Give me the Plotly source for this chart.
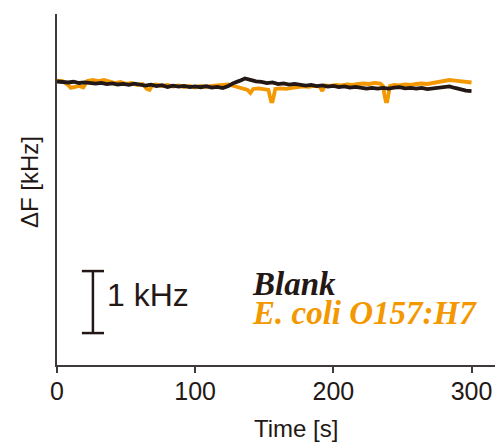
import plotly.graph_objects as go

# ---- data (frequency shift in Hz, time in s) ----
blank_time_s = list(range(0, 301, 4))
blank_df_hz = [8, 0, -8, 4, -16, -6, -18, -26, -14, -34,
               -22, -40, -30, -46, -28, -50, -58, -44, -66, -52,
               -80, -60, -74, -62, -82, -70, -84, -66, -90, -78,
               -98, -64, -14, 18, 56, 34, 10, 2, -18, -6,
               -34, -22, -42, -30, -50, -58, -46, -66, -54, -74,
               -62, -82, -70, -90, -78, -98, -106, -94, -108, -96,
               -106, -92, -84, -104, -94, -108, -96, -114, -102, -92,
               -78, -70, -96, -122, -138, -146]

ecoli_time_s = [0, 4, 8, 10, 13, 16, 19, 22, 26, 30, 34, 38, 42, 46, 50, 54, 58, 62, 65, 67,
                69, 72, 76, 80, 84, 88, 92, 96, 100, 104, 108, 112, 116, 120, 124, 128, 132, 136, 138, 140,
                142, 146, 150, 153, 154, 155, 156, 157, 158, 162, 166, 170, 174, 178, 182, 186, 190, 192, 194, 198,
                202, 206, 210, 214, 218, 222, 226, 230, 234, 236, 237, 238, 239, 240, 241, 244, 248, 252, 256, 260,
                264, 268, 272, 276, 280, 284, 288, 292, 296, 300]
ecoli_df_hz = [24, 16, -48, -96, -80, -64, -88, 16, 32, 16, 32, 0, -16, 0, -32, -16, -48, -32, -112, -128,
               -48, -40, -64, -48, -72, -56, -80, -64, -88, -64, -80, -64, -56, -48, -40, -64, -88, -112, -128, -176,
               -112, -104, -120, -128, -224, -312, -312, -192, -112, -104, -112, -96, -88, -72, -80, -64, -72, -144, -56, -64,
               -48, -56, -40, -48, -32, -24, -32, -16, -24, -64, -208, -312, -312, -192, -64, -48, -56, -40, -48, -32,
               -24, -32, -16, -8, 8, 32, 24, 16, 8, -8]

series_names = ["Blank", "E. coli O157:H7"]
series_colors = ["#231815", "#F39800"]

x_ticks = [0, 100, 200, 300]
x_tick_labels = ["0", "100", "200", "300"]
x_title = "Time [s]"
y_title = "ΔF [kHz]"
scale_bar_label = "1 kHz"
scale_bar_hz = 1000

# ---- figure ----
W, H = 495, 442
ML, MR, MT, MB = 57, 0, 14, 77
PW, PH = W - ML - MR, H - MT - MB

def px_x(p):
    return (p - ML) / PW

def px_y(p):
    return (H - MB - p) / PH

fig = go.Figure()
fig.add_trace(go.Scatter(x=ecoli_time_s, y=ecoli_df_hz, mode="lines",
                         line=dict(color=series_colors[1], width=3.8), name=series_names[1]))
fig.add_trace(go.Scatter(x=blank_time_s, y=blank_df_hz, mode="lines",
                         line=dict(color=series_colors[0], width=3.8), name=series_names[0]))

axis_col = "#3e3a39"
txt_col = "#231815"
sans = "Liberation Sans, Arial, sans-serif"
serif = "Liberation Serif, Times New Roman, serif"

# scale bar (1 kHz)
sb_x, sb_bottom = 26, -4050
sb_top = sb_bottom + scale_bar_hz
cap = 8
for shp in [dict(x0=sb_x, x1=sb_x, y0=sb_bottom, y1=sb_top),
            dict(x0=sb_x - cap, x1=sb_x + cap, y0=sb_top, y1=sb_top),
            dict(x0=sb_x - cap, x1=sb_x + cap, y0=sb_bottom, y1=sb_bottom)]:
    fig.add_shape(type="line", xref="x", yref="y", line=dict(color=txt_col, width=2.5), **shp)

annos = [
    dict(text=scale_bar_label, x=px_x(105), y=px_y(295), xanchor="left", yanchor="middle",
         font=dict(family=sans, size=32, color=txt_col)),
    dict(text="<b><i>" + series_names[0] + "</i></b>", x=px_x(250), y=px_y(284), xanchor="left", yanchor="middle",
         font=dict(family=serif, size=33, color=series_colors[0])),
    dict(text="<b><i>" + series_names[1] + "</i></b>", x=px_x(250), y=px_y(313), xanchor="left", yanchor="middle",
         font=dict(family=serif, size=33, color=series_colors[1])),
    dict(text=x_title, x=px_x(296), y=px_y(428), xanchor="center", yanchor="middle",
         font=dict(family=sans, size=24, color=txt_col)),
    dict(text=y_title, x=px_x(29), y=px_y(182), xanchor="center", yanchor="middle", textangle=-90,
         font=dict(family=sans, size=24, color=txt_col)),
]
for a in annos:
    fig.add_annotation(xref="paper", yref="paper", showarrow=False, **a)

fig.update_layout(
    width=W, height=H,
    margin=dict(l=ML, r=MR, t=MT, b=MB, pad=0),
    paper_bgcolor="white", plot_bgcolor="white",
    showlegend=False,
    xaxis=dict(range=[0, 317], showgrid=False, zeroline=False, showline=True,
               linecolor=axis_col, linewidth=1.6, ticks="outside", ticklen=6, tickwidth=1.6,
               tickcolor=axis_col, tickvals=x_ticks, ticktext=x_tick_labels, ticklabelstandoff=-3,
               tickfont=dict(family=sans, size=25, color=txt_col)),
    yaxis=dict(range=[-4565, 1097], showgrid=False, zeroline=False, showline=True,
               linecolor=axis_col, linewidth=1.6, showticklabels=False, ticks=""),
)

fig.write_html("out.html", config={"displayModeBar": False},
               post_script="document.body.style.margin='0';document.body.style.overflow='hidden';")
